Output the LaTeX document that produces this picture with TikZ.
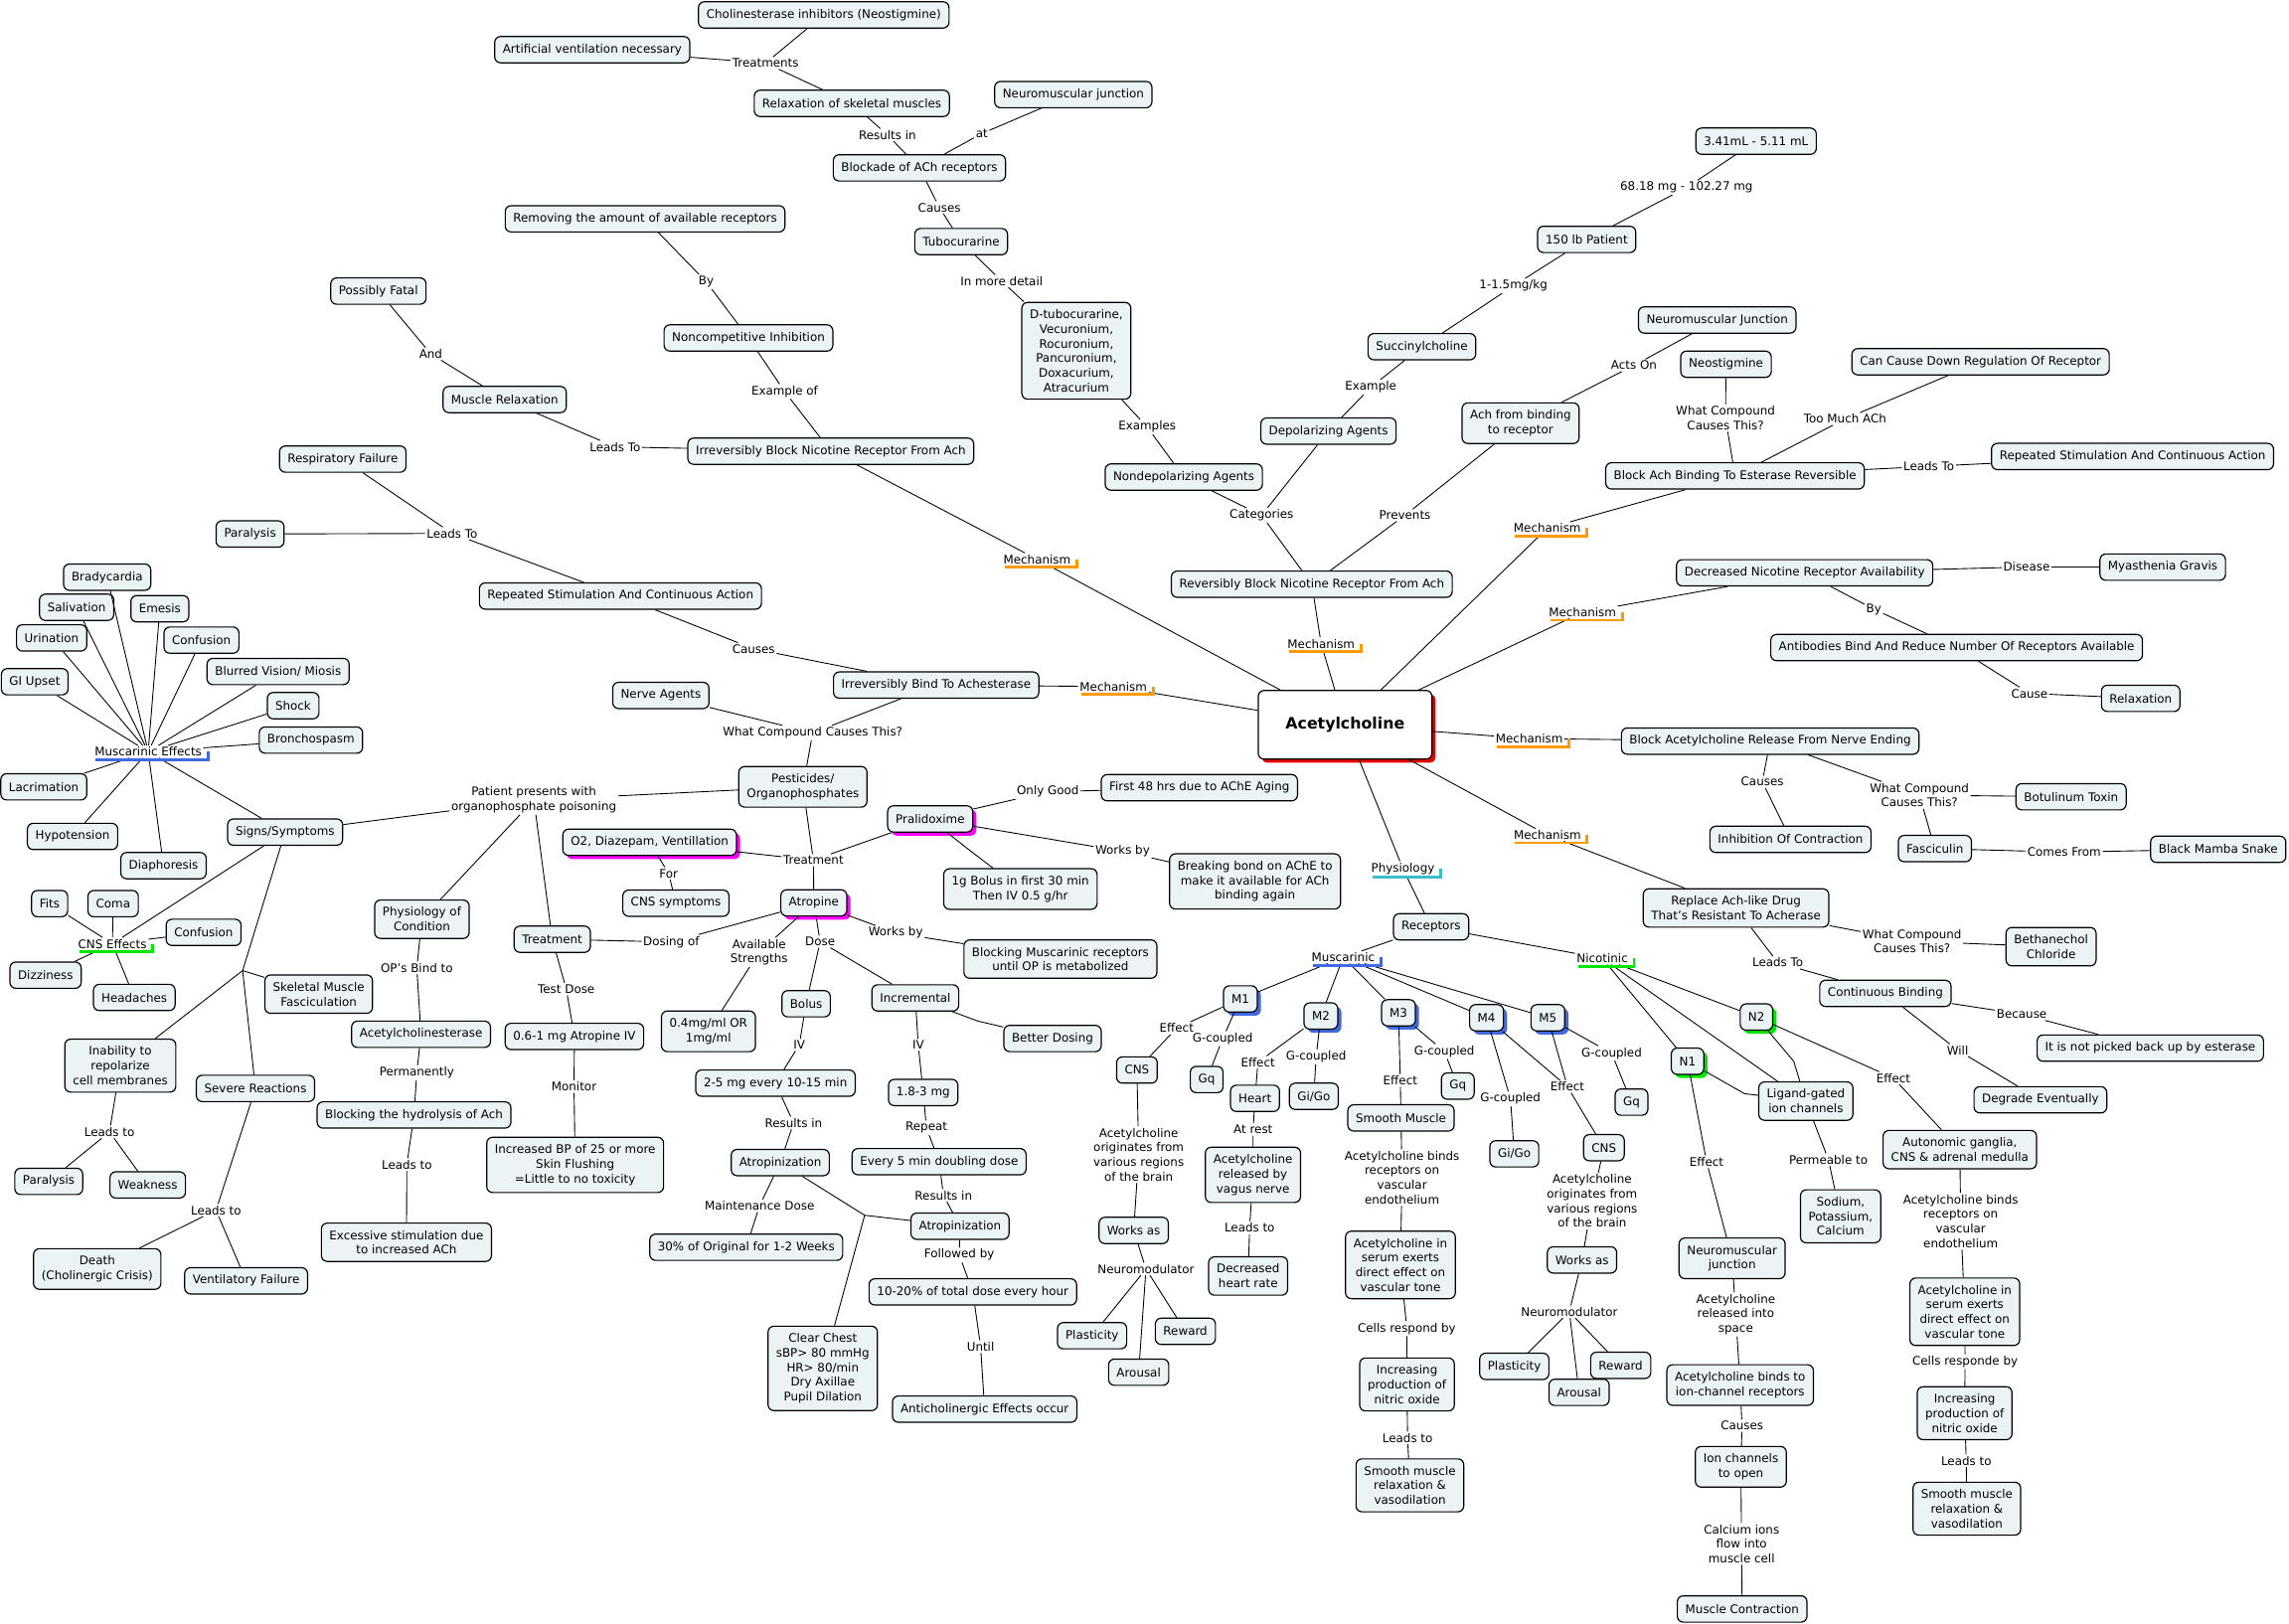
\documentclass[tikz,border=0pt]{standalone}
\usepackage{fontspec}
\setmainfont{DejaVu Sans}
\usetikzlibrary{shadows,calc}
\definecolor{cfill}{RGB}{236,243,245}
\definecolor{ulorange}{RGB}{255,153,0}
\definecolor{ulblue}{RGB}{65,105,225}
\definecolor{ulgreen}{RGB}{0,230,0}
\definecolor{ulteal}{RGB}{60,190,200}
\definecolor{shmag}{RGB}{255,0,255}
\definecolor{shred}{RGB}{230,0,0}
\newcommand\mapfont{\fontsize{8.1}{10}\selectfont}
\newcommand\ulab[2]{\draw[line width=2pt,#2] ($(#1.south west)+(2,1)$) -- ($(#1.south east)+(3,1)$) -- ($(#1.east)+(3,0)$);}
\begin{document}
\begin{tikzpicture}[x=1pt,y=-1pt,
 c/.style={draw=black,line width=0.8pt,rounded corners=4pt,fill=cfill,inner xsep=5.5pt,inner ysep=5pt,minimum height=18pt,align=center,font=\mapfont},
 l/.style={inner sep=1pt,align=center,font=\mapfont},
 e/.style={line width=0.6pt},
 sh/.style={drop shadow={shadow xshift=2.5pt,shadow yshift=-2.5pt,fill=#1,opacity=1}}]
\useasboundingbox (0,0) rectangle (1568,1112);
% ---------- top ----------
\node[c] (chol) at (564.3,10.2) {Cholinesterase inhibitors (Neostigmine)};
\node[c] (artvent) at (405.7,34) {Artificial ventilation necessary};
\node[l] (Ltreatments) at (524.4,43.2) {Treatments};
\node[c] (relax) at (583.5,70.8) {Relaxation of skeletal muscles};
\node[l] (Lresultsin1) at (607.9,92.4) {Results in};
\node[c] (nmj1) at (735.2,64.8) {Neuromuscular junction};
\node[l] (Lat) at (672.5,91.5) {at};
\node[c] (blockade) at (629.8,115) {Blockade of ACh receptors};
\node[l] (Lcauses1) at (643.5,142.1) {Causes};
\node[c] (tubo) at (658.4,165.5) {Tubocurarine};
\node[l] (Linmore) at (686.1,192.5) {In more detail};
\node[c] (dtubo) at (737.3,240.3) {D-tubocurarine,\\Vecuronium,\\Rocuronium,\\Pancuronium,\\Doxacurium,\\Atracurium};
\node[l] (Lexamples) at (785.8,292.5) {Examples};
\node[c] (nondep) at (810.9,326.8) {Nondepolarizing Agents};
\node[l] (Lcategories) at (864.2,353) {Categories};
\node[c] (dep) at (910,295.3) {Depolarizing Agents};
\node[l] (Lexample) at (939,265.3) {Example};
\node[c] (succ) at (974,237.5) {Succinylcholine};
\node[l] (Ldose1) at (1036.7,195.8) {1-1.5mg/kg};
\node[c] (p150) at (1086.9,164) {150 lb Patient};
\node[l] (Lmg) at (1155.3,128.5) {68.18 mg - 102.27 mg};
\node[c] (ml341) at (1202.9,96.7) {3.41mL - 5.11 mL};
\node[c] (rbnr) at (898.6,400.2) {Reversibly Block Nicotine Receptor From Ach};
\node[l] (Lprevents) at (962.4,353) {Prevents};
\node[c] (achbind) at (1041.6,289.9) {Ach from binding\\to receptor};
\node[l] (Lactson) at (1119.3,250.3) {Acts On};
\node[c] (nmj2) at (1176.3,219.2) {Neuromuscular Junction};
\node[c] (neostig) at (1182.3,249.5) {Neostigmine};
\node[l] (Lwhatc1) at (1182,286.5) {What Compound\\Causes This?};
\node[c] (blockach) at (1188.5,326) {Block Ach Binding To Esterase Reversible};
\node[l] (Ltoomuch) at (1263.9,287) {Too Much ACh};
\node[c] (candown) at (1356.7,247.8) {Can Cause Down Regulation Of Receptor};
\node[l] (Lleadsto1) at (1321.3,319.5) {Leads To};
\node[c] (repeated2) at (1460.8,312.7) {Repeated Stimulation And Continuous Action};
\node[l] (LmechA) at (1059.9,361.8) {Mechanism};
% ---------- right ----------
\node[c] (decnic) at (1236.2,392.4) {Decreased Nicotine Receptor Availability};
\node[l] (Ldisease) at (1388.2,388.4) {Disease};
\node[c] (myas) at (1481.5,388.5) {Myasthenia Gravis};
\node[l] (Lby2) at (1283.6,417.3) {By};
\node[c] (antib) at (1340.3,443.6) {Antibodies Bind And Reduce Number Of Receptors Available};
\node[l] (Lcause) at (1390.2,475) {Cause};
\node[c] (relaxn) at (1466.4,478.4) {Relaxation};
\node[l] (LmechB) at (1084,419.5) {Mechanism};
\node[c] (blockrel) at (1212.6,507.7) {Block Acetylcholine Release From Nerve Ending};
\node[l] (LmechC) at (1047.6,506) {Mechanism};
\node[l] (Lcauses3) at (1207.2,535.5) {Causes};
\node[c] (inhib) at (1226.5,575) {Inhibition Of Contraction};
\node[l] (Lwhatc2) at (1314.8,544.7) {What Compound\\Causes This?};
\node[c] (botul) at (1418.7,545.8) {Botulinum Toxin};
\node[c] (fasc) at (1325.4,581.3) {Fasciculin};
\node[l] (Lcomesfrom) at (1414,583.7) {Comes From};
\node[c] (bmamba) at (1519.5,581.8) {Black Mamba Snake};
\node[l] (LmechD) at (1060,572) {Mechanism};
\node[c] (replace) at (1189.2,622) {Replace Ach-like Drug\\That's Resistant To Acherase};
\node[l] (Lwhatc3) at (1309.7,644.8) {What Compound\\Causes This?};
\node[c] (betha) at (1405,648.5) {Bethanechol\\Chloride};
\node[l] (Lleadsto2) at (1217.8,659.4) {Leads To};
\node[c] (contbind) at (1291.5,680.5) {Continuous Binding};
\node[l] (Lbecause) at (1384.9,694.8) {Because};
\node[c] (notpicked) at (1473,718) {It is not picked back up by esterase};
\node[l] (Lwill) at (1341,719.4) {Will};
\node[c] (degrade) at (1397.7,753.4) {Degrade Eventually};
% ---------- centre ----------
\node[c,fill=white,sh=shred,minimum width=119pt,minimum height=47pt,font=\fontsize{10.75}{13}\selectfont\bfseries] (ach) at (921.4,496.5) {Acetylcholine};
\node[l] (LmechE) at (905,441) {Mechanism};
\node[l] (LmechF) at (710.4,383.1) {Mechanism};
\node[l] (LmechG) at (762.7,470.3) {Mechanism};
\node[l] (Lphysio) at (961,595) {Physiology};
% ---------- upper left ----------
\node[c] (removing) at (441.9,149.9) {Removing the amount of available receptors};
\node[l] (Lby1) at (483.7,193) {By};
\node[c] (noncomp) at (512.7,231.5) {Noncompetitive Inhibition};
\node[l] (Lexampleof) at (537.5,268.2) {Example of};
\node[c] (irrevnic) at (569.1,309.1) {Irreversibly Block Nicotine Receptor From Ach};
\node[l] (Lleadsto3) at (421.4,306.1) {Leads To};
\node[c] (musrelax) at (345.7,273.7) {Muscle Relaxation};
\node[l] (Land) at (295.1,242.4) {And};
\node[c] (fatal) at (259.2,199.4) {Possibly Fatal};
\node[c] (resp) at (234.8,314.5) {Respiratory Failure};
\node[c] (paraly1) at (171.3,365.8) {Paralysis};
\node[l] (Lleadsto4) at (309.7,365.4) {Leads To};
\node[c] (repeated1) at (425,408.3) {Repeated Stimulation And Continuous Action};
\node[l] (Lcauses2) at (516.2,444.5) {Causes};
\node[c] (irrevbind) at (641.3,469.3) {Irreversibly Bind To Achesterase};
\node[c] (nerve) at (452.7,476.4) {Nerve Agents};
\node[l] (Lwhatc4) at (556.7,502) {What Compound Causes This?};
\node[c] (pest) at (550,539) {Pesticides/\\Organophosphates};
% ---------- muscarinic effects ----------
\node[l] (Lmuseff) at (101.5,515) {Muscarinic Effects};
\node[c] (brady) at (73.4,395.4) {Bradycardia};
\node[c] (saliv) at (52.5,416) {Salivation};
\node[c] (emesis) at (109.5,417) {Emesis};
\node[c] (urin) at (35.4,437) {Urination};
\node[c] (conf1) at (138,438.5) {Confusion};
\node[c] (blurred) at (190.5,460) {Blurred Vision/ Miosis};
\node[c] (giupset) at (23.8,467) {GI Upset};
\node[c] (shock) at (200.8,483.4) {Shock};
\node[c] (broncho) at (213,507) {Bronchospasm};
\node[c] (lacrim) at (30,539) {Lacrimation};
\node[c] (hypot) at (49.7,573) {Hypotension};
\node[c] (diaph) at (112,593) {Diaphoresis};
\node[c] (signs) at (195.3,570) {Signs/Symptoms};
\node[l] (Lpatient) at (365.7,548) {Patient presents with\\organophosphate poisoning};
\node[l] (Lcnseff) at (77,646.5) {CNS Effects};
\node[c] (fits) at (34,619) {Fits};
\node[c] (coma) at (77.5,619) {Coma};
\node[c] (conf2) at (139.5,638.7) {Confusion};
\node[c] (dizzy) at (31.2,668) {Dizziness};
\node[c] (headache) at (92,683.3) {Headaches};
\coordinate (b1) at (166.2,664.9);
\node[c] (skeletal) at (218.3,681) {Skeletal Muscle\\Fasciculation};
\node[c] (inability) at (82.4,730) {Inability to\\repolarize\\cell membranes};
\node[c] (severe) at (175,745.6) {Severe Reactions};
\node[l] (Lleadsto5) at (75,775.4) {Leads to};
\node[c] (paraly2) at (33.4,809.3) {Paralysis};
\node[c] (weak) at (101.2,811.7) {Weakness};
\node[l] (Lleadsto6) at (148,829) {Leads to};
\node[c] (death) at (66.6,869.3) {Death\\(Cholinergic Crisis)};
\node[c] (ventfail) at (168.6,877.4) {Ventilatory Failure};
% ---------- physiology of condition / treatment ----------
\node[c] (physcond) at (289,629.7) {Physiology of\\Condition};
\node[l] (Lopsbind) at (285.5,663) {OP's Bind to};
\node[c] (acheste) at (288.4,708.5) {Acetylcholinesterase};
\node[l] (Lperm) at (285.5,735) {Permanently};
\node[c] (blockhyd) at (283.6,763.8) {Blocking the hydrolysis of Ach};
\node[l] (Lleadsto7) at (278.7,797.7) {Leads to};
\node[c] (excessive) at (278.4,851) {Excessive stimulation due\\to increased ACh};
\node[c] (treatment) at (378.3,643.4) {Treatment};
\node[l] (Ltestdose) at (387.9,677.6) {Test Dose};
\node[c] (n06) at (393.5,710) {0.6-1 mg Atropine IV};
\node[l] (Lmonitor) at (393.2,744.4) {Monitor};
\node[c] (incbp) at (394,798) {Increased BP of 25 or more\\Skin Flushing\\=Little to no toxicity};
\node[l] (Ldosingof) at (459.8,645.3) {Dosing of};
% ---------- atropine ----------
\node[l] (Ltreatment2) at (557.2,589.2) {Treatment};
\node[c,sh=shmag] (o2) at (445,577) {O2, Diazepam, Ventillation};
\node[l] (Lfor) at (458,598.3) {For};
\node[c] (cnssym) at (463,618.7) {CNS symptoms};
\node[c,sh=shmag] (atropine) at (557.5,618.5) {Atropine};
\node[c,sh=shmag] (pralid) at (637.2,561) {Pralidoxime};
\node[l] (Lonlygood) at (717.8,542.4) {Only Good};
\node[c] (first48) at (821.6,539.6) {First 48 hrs due to AChE Aging};
\node[l] (Lworksby1) at (769,583.2) {Works by};
\node[c] (breaking) at (859.7,603.8) {Breaking bond on AChE to\\make it available for ACh\\binding again};
\coordinate (b3) at (661,580);
\node[c] (bolus1g) at (699,609) {1g Bolus in first 30 min\\Then IV 0.5 g/hr};
\node[l] (Lworksby2) at (613.6,639.1) {Works by};
\node[c] (blockmusc) at (726.4,657) {Blocking Muscarinic receptors\\until OP is metabolized};
\node[l] (Lavailstr) at (520,652.3) {Available\\Strengths};
\node[c] (o4mg) at (485.3,706.5) {0.4mg/ml OR\\1mg/ml};
\node[l] (Ldose2) at (561.8,645.1) {Dose};
\node[c] (bolus) at (552.2,687.6) {Bolus};
\node[c] (incremental) at (627,683.6) {Incremental};
\coordinate (b4) at (670,699.5);
\node[c] (better) at (721,711.4) {Better Dosing};
\node[l] (Liv1) at (547.5,715.8) {IV};
\node[l] (Liv2) at (629,715.8) {IV};
\node[c] (mg25) at (531.2,742) {2-5 mg every 10-15 min};
\node[c] (mg18) at (632.4,748.4) {1.8-3 mg};
\node[l] (Lresultsin2) at (543.6,769.2) {Results in};
\node[l] (Lrepeat) at (634.6,772.5) {Repeat};
\node[c] (atropiz1) at (534.5,796.4) {Atropinization};
\node[c] (every5) at (643.3,795.8) {Every 5 min doubling dose};
\node[l] (Lmaint) at (520.3,826) {Maintenance Dose};
\node[l] (Lresultsin3) at (646.3,818.9) {Results in};
\coordinate (b2) at (592.3,832.5);
\node[c] (atropiz2) at (657.6,840) {Atropinization};
\node[c] (pct30) at (511.2,854.4) {30\% of Original for 1-2 Weeks};
\node[l] (Lfollowed) at (657.1,859.7) {Followed by};
\node[c] (p1020) at (666.4,885) {10-20\% of total dose every hour};
\node[c] (clear) at (563.6,937.4) {Clear Chest\\sBP> 80 mmHg\\HR> 80/min\\Dry Axillae\\Pupil Dilation};
\node[l] (Luntil) at (671.7,922.3) {Until};
\node[c] (anticho) at (674.5,965.3) {Anticholinergic Effects occur};
% ---------- receptors ----------
\node[c] (receptors) at (980.3,634.9) {Receptors};
\node[l] (Lmuscarinic) at (920.1,655.8) {Muscarinic};
\node[l] (Lnicotinic) at (1097.6,656.5) {Nicotinic};
\node[c,sh=ulblue] (m1) at (849.7,684.3) {M1};
\node[c,sh=ulblue] (m2) at (904.8,696) {M2};
\node[c,sh=ulblue] (m3) at (958,693.8) {M3};
\node[c,sh=ulblue] (m4) at (1018.3,697.2) {M4};
\node[c,sh=ulblue] (m5) at (1060.3,697.2) {M5};
\node[l] (Leffect1) at (806,704.3) {Effect};
\node[l] (Lgc1) at (837.5,711.5) {G-coupled};
\node[c] (cns1) at (778.8,733) {CNS};
\node[c] (gq1) at (826.6,739.5) {Gq};
\node[l] (Leffect2) at (861.7,727.7) {Effect};
\node[l] (Lgc2) at (901.5,724.1) {G-coupled};
\node[c] (heart) at (859.7,752.4) {Heart};
\node[c] (gigo1) at (900,751) {Gi/Go};
\node[l] (Latrest) at (858.4,773.7) {At rest};
\node[c] (achvagus) at (858.3,804.8) {Acetylcholine\\released by\\vagus nerve};
\node[l] (Lleadsto8) at (856,841.2) {Leads to};
\node[c] (decheart) at (855,874.1) {Decreased\\heart rate};
\node[l] (Lachorig1) at (780,790.9) {Acetylcholine\\originates from\\various regions\\of the brain};
\node[c] (worksas1) at (776.6,842.9) {Works as};
\node[l] (Lneuromod1) at (785,869.3) {Neuromodulator};
\node[c] (plast1) at (748.1,915) {Plasticity};
\node[c] (reward1) at (812,912) {Reward};
\node[c] (arousal1) at (780,940) {Arousal};
\node[l] (Leffect3) at (959.2,740) {Effect};
\node[l] (Lgc3) at (989.4,720.3) {G-coupled};
\node[c] (gq3) at (998.6,744) {Gq};
\node[c] (smooth) at (959.7,765.8) {Smooth Muscle};
\node[l] (Lachbinds1) at (960.4,806.7) {Acetylcholine binds\\receptors on\\vascular\\endothelium};
\node[c] (serum1) at (959.3,866.5) {Acetylcholine in\\serum exerts\\direct effect on\\vascular tone};
\node[l] (Lcellsresp1) at (963.7,910.1) {Cells respond by};
\node[c] (incno1) at (963.8,948.4) {Increasing\\production of\\nitric oxide};
\node[l] (Lleadsto9) at (964.2,985) {Leads to};
\node[c] (smoothrel1) at (965.8,1017.5) {Smooth muscle\\relaxation \&\\vasodilation};
\node[l] (Lgc4) at (1034.7,752.8) {G-coupled};
\node[c] (gigo2) at (1037.3,790.4) {Gi/Go};
\node[l] (Leffect4) at (1073.7,744.4) {Effect};
\node[c] (cns2) at (1098.7,786.2) {CNS};
\node[l] (Lgc5) at (1104,721.5) {G-coupled};
\node[c] (gq5) at (1117.6,755) {Gq};
\node[l] (Lachorig2) at (1090.6,822.8) {Acetylcholine\\originates from\\various regions\\of the brain};
\node[c] (worksas2) at (1083.7,863.1) {Works as};
\node[l] (Lneuromod2) at (1075,898.6) {Neuromodulator};
\node[c] (plast2) at (1037.3,936) {Plasticity};
\node[c] (reward2) at (1110.2,935.3) {Reward};
\node[c] (arousal2) at (1081.7,953.8) {Arousal};
% ---------- nicotinic ----------
\node[c,sh=ulgreen] (n1) at (1156,727) {N1};
\node[c,sh=ulgreen] (n2) at (1203.2,696.7) {N2};
\node[c] (ligand) at (1237,754.3) {Ligand-gated\\ion channels};
\coordinate (b5) at (1195,749.2);
\coordinate (b6) at (1228.7,727);
\node[l] (Lpermeable) at (1252.5,794.4) {Permeable to};
\node[c] (sodium) at (1260.8,833.2) {Sodium,\\Potassium,\\Calcium};
\node[l] (Leffect5) at (1169,795.8) {Effect};
\node[c] (nmj3) at (1186.5,862) {Neuromuscular\\junction};
\node[l] (Lachrel) at (1189,900.4) {Acetylcholine\\released into\\space};
\node[c] (achbindsion) at (1192,948.8) {Acetylcholine binds to\\ion-channel receptors};
\node[l] (Lcauses4) at (1193.3,976.6) {Causes};
\node[c] (ionopen) at (1192.5,1004.8) {Ion channels\\to open};
\node[l] (Lcalcium) at (1193,1057.6) {Calcium ions\\flow into\\muscle cell};
\node[c] (muscon) at (1193.4,1102.2) {Muscle Contraction};
\node[l] (Leffect6) at (1297,738.5) {Effect};
\node[c] (autonomic) at (1342.5,787.5) {Autonomic ganglia,\\CNS \& adrenal medulla};
\node[l] (Lachbinds2) at (1343.1,836.5) {Acetylcholine binds\\receptors on\\vascular\\endothelium};
\node[c] (serum2) at (1345.9,898.6) {Acetylcholine in\\serum exerts\\direct effect on\\vascular tone};
\node[l] (Lcellsresp2) at (1346.1,932.7) {Cells responde by};
\node[c] (incno2) at (1345.8,968.1) {Increasing\\production of\\nitric oxide};
\node[l] (Lleadsto10) at (1346.9,1000.6) {Leads to};
\node[c] (smoothrel2) at (1347.3,1033.5) {Smooth muscle\\relaxation \&\\vasodilation};
% ---------- connectors ----------
\foreach \a/\b in {relax/Ltreatments,Ltreatments/chol,Ltreatments/artvent,
 blockade/Lresultsin1,Lresultsin1/relax,blockade/Lat,Lat/nmj1,
 tubo/Lcauses1,Lcauses1/blockade,tubo/Linmore,Linmore/dtubo,
 dtubo/Lexamples,Lexamples/nondep,rbnr/Lcategories,Lcategories/nondep,Lcategories/dep,
 dep/Lexample,Lexample/succ,succ/Ldose1,Ldose1/p150,p150/Lmg,Lmg/ml341,
 rbnr/Lprevents,Lprevents/achbind,achbind/Lactson,Lactson/nmj2,
 ach/LmechE,LmechE/rbnr,ach/LmechA,LmechA/blockach,
 blockach/Lwhatc1,Lwhatc1/neostig,blockach/Ltoomuch,Ltoomuch/candown,
 blockach/Lleadsto1,Lleadsto1/repeated2,
 ach/LmechB,LmechB/decnic,decnic/Ldisease,Ldisease/myas,decnic/Lby2,Lby2/antib,
 antib/Lcause,Lcause/relaxn,ach/LmechC,LmechC/blockrel,
 blockrel/Lcauses3,Lcauses3/inhib,blockrel/Lwhatc2,Lwhatc2/botul,Lwhatc2/fasc,
 fasc/Lcomesfrom,Lcomesfrom/bmamba,ach/LmechD,LmechD/replace,
 replace/Lwhatc3,Lwhatc3/betha,replace/Lleadsto2,Lleadsto2/contbind,
 contbind/Lbecause,Lbecause/notpicked,contbind/Lwill,Lwill/degrade,
 ach/LmechF,LmechF/irrevnic,irrevnic/Lexampleof,Lexampleof/noncomp,
 noncomp/Lby1,Lby1/removing,irrevnic/Lleadsto3,Lleadsto3/musrelax,
 musrelax/Land,Land/fatal,ach/LmechG,LmechG/irrevbind,
 irrevbind/Lcauses2,Lcauses2/repeated1,repeated1/Lleadsto4,Lleadsto4/resp,Lleadsto4/paraly1,
 irrevbind/Lwhatc4,Lwhatc4/nerve,Lwhatc4/pest,
 pest/Lpatient,Lpatient/signs,Lpatient/physcond,Lpatient/treatment,
 signs/Lmuseff,signs/Lcnseff,signs/b1,b1/skeletal,b1/inability,b1/severe,
 inability/Lleadsto5,Lleadsto5/paraly2,Lleadsto5/weak,
 severe/Lleadsto6,Lleadsto6/death,Lleadsto6/ventfail,
 physcond/Lopsbind,Lopsbind/acheste,acheste/Lperm,Lperm/blockhyd,
 blockhyd/Lleadsto7,Lleadsto7/excessive,
 treatment/Ltestdose,Ltestdose/n06,n06/Lmonitor,Lmonitor/incbp,
 atropine/Ldosingof,Ldosingof/treatment,
 pest/Ltreatment2,Ltreatment2/o2,Ltreatment2/atropine,Ltreatment2/pralid,
 o2/Lfor,Lfor/cnssym,pralid/Lonlygood,Lonlygood/first48,
 pralid/Lworksby1,Lworksby1/breaking,pralid/b3,b3/bolus1g,
 atropine/Lworksby2,Lworksby2/blockmusc,atropine/Lavailstr,Lavailstr/o4mg,
 atropine/Ldose2,Ldose2/bolus,Ldose2/incremental,
 bolus/Liv1,Liv1/mg25,incremental/Liv2,Liv2/mg18,incremental/b4,b4/better,
 mg25/Lresultsin2,Lresultsin2/atropiz1,mg18/Lrepeat,Lrepeat/every5,
 atropiz1/Lmaint,Lmaint/pct30,every5/Lresultsin3,Lresultsin3/atropiz2,
 atropiz1/b2,atropiz2/b2,b2/clear,atropiz2/Lfollowed,Lfollowed/p1020,
 p1020/Luntil,Luntil/anticho,
 ach/Lphysio,Lphysio/receptors,receptors/Lmuscarinic,receptors/Lnicotinic,
 Lmuscarinic/m1,Lmuscarinic/m2,Lmuscarinic/m3,Lmuscarinic/m4,Lmuscarinic/m5,
 Lnicotinic/n1,Lnicotinic/n2,Lnicotinic/ligand,n1/b5,b5/ligand,n2/b6,b6/ligand,
 m1/Leffect1,Leffect1/cns1,m1/Lgc1,Lgc1/gq1,
 cns1/Lachorig1,Lachorig1/worksas1,worksas1/Lneuromod1,
 Lneuromod1/plast1,Lneuromod1/reward1,Lneuromod1/arousal1,
 m2/Leffect2,Leffect2/heart,m2/Lgc2,Lgc2/gigo1,
 heart/Latrest,Latrest/achvagus,achvagus/Lleadsto8,Lleadsto8/decheart,
 m3/Leffect3,Leffect3/smooth,m3/Lgc3,Lgc3/gq3,
 smooth/Lachbinds1,Lachbinds1/serum1,serum1/Lcellsresp1,Lcellsresp1/incno1,
 incno1/Lleadsto9,Lleadsto9/smoothrel1,
 m4/Lgc4,Lgc4/gigo2,m4/Leffect4,m5/Leffect4,Leffect4/cns2,m5/Lgc5,Lgc5/gq5,
 cns2/Lachorig2,Lachorig2/worksas2,worksas2/Lneuromod2,
 Lneuromod2/plast2,Lneuromod2/reward2,Lneuromod2/arousal2,
 ligand/Lpermeable,Lpermeable/sodium,
 n1/Leffect5,Leffect5/nmj3,nmj3/Lachrel,Lachrel/achbindsion,achbindsion/Lcauses4,
 Lcauses4/ionopen,ionopen/Lcalcium,Lcalcium/muscon,
 n2/Leffect6,Leffect6/autonomic,autonomic/Lachbinds2,Lachbinds2/serum2,
 serum2/Lcellsresp2,Lcellsresp2/incno2,incno2/Lleadsto10,Lleadsto10/smoothrel2}
 \draw[e] (\a) -- (\b);
\foreach \x in {brady,saliv,emesis,urin,conf1,blurred,giupset,shock,broncho,lacrim,hypot,diaph}
 \draw[e] (Lmuseff) -- (\x);
\foreach \x in {fits,coma,conf2,dizzy,headache}
 \draw[e] (Lcnseff) -- (\x);
% ---------- coloured underlines ----------
\foreach \n in {LmechA,LmechB,LmechC,LmechD,LmechE,LmechF,LmechG} {\ulab{\n}{ulorange}}
\ulab{Lmuseff}{ulblue}
\ulab{Lmuscarinic}{ulblue}
\ulab{Lcnseff}{ulgreen}
\ulab{Lnicotinic}{ulgreen}
\ulab{Lphysio}{ulteal}
\end{tikzpicture}
\end{document}
